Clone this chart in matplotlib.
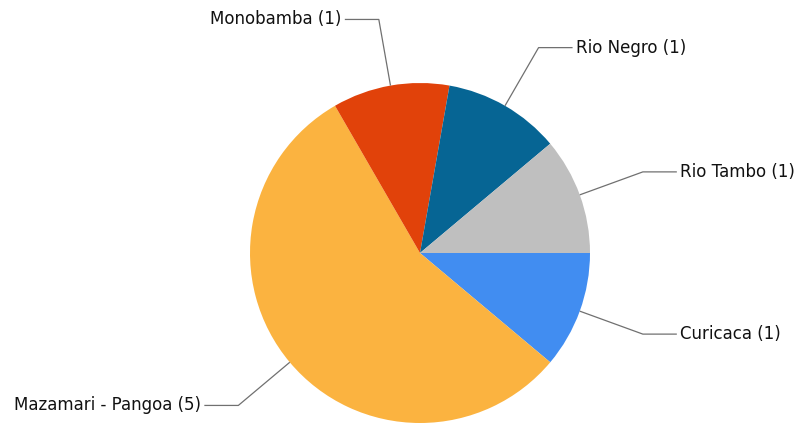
import numpy as np
import matplotlib
matplotlib.use("Agg")
import matplotlib.pyplot as plt

categories = ["Curicaca", "Mazamari - Pangoa", "Monobamba", "Rio Negro", "Rio Tambo"]
values = [1, 5, 1, 1, 1]
colors = ["#418DF1", "#FBB340", "#E1420A", "#066594", "#BFBFBF"]

W, H = 801, 423
fig = plt.figure(figsize=(W / 100, H / 100), dpi=100)
ax = fig.add_axes([0, 0, 1, 1])

cx, cy, r = 420, H - 253, 170
wedges, _ = ax.pie(values, colors=colors, startangle=0, counterclock=False,
                   center=(cx, cy), radius=r, frame=True,
                   wedgeprops=dict(linewidth=0))
ax.set_xlim(0, W)
ax.set_ylim(0, H)
ax.set_aspect("equal")
ax.axis("off")

for w, name, v in zip(wedges, categories, values):
    ang = np.deg2rad((w.theta1 + w.theta2) / 2)
    x0, y0 = cx + r * np.cos(ang), cy + r * np.sin(ang)
    x1, y1 = cx + 1.395 * r * np.cos(ang), cy + 1.395 * r * np.sin(ang)
    sgn = 1 if np.cos(ang) >= 0 else -1
    x2 = x1 + sgn * 34
    ax.plot([x0, x1, x2], [y0, y1, y1], color="#707070", lw=0.9,
            solid_capstyle="butt", clip_on=False)
    ax.text(x2 + sgn * 3, y1, f"{name} ({v})", ha="left" if sgn > 0 else "right",
            va="center", fontsize=12, color="#111111", family="DejaVu Sans")

fig.savefig("out.png", dpi=100)
